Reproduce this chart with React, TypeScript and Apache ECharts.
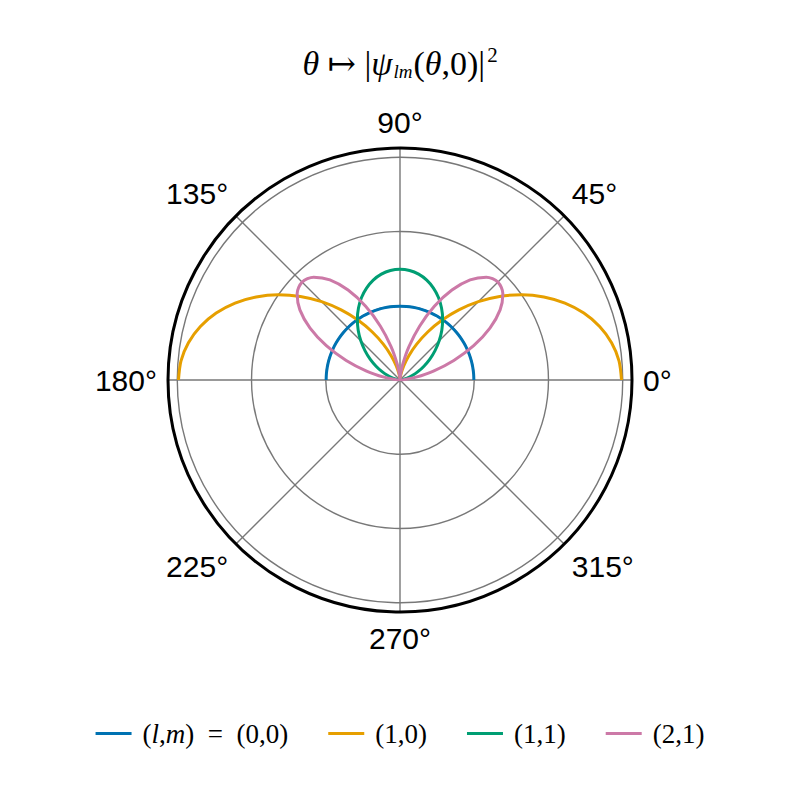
import React, { useEffect, useRef } from "react";
import * as echarts from "echarts";

// angles (degrees) sampled from 0 to 180
const angles = [0,5,10,15,20,25,30,35,40,45,50,55,60,65,70,75,80,85,90,95,100,105,110,115,120,125,130,135,140,145,150,155,160,165,170,175,180];

const seriesNames = ["(l,m) = (0,0)", "(1,0)", "(1,1)", "(2,1)"];

const psi00 = [0.0796,0.0796,0.0796,0.0796,0.0796,0.0796,0.0796,0.0796,0.0796,0.0796,0.0796,0.0796,0.0796,0.0796,0.0796,0.0796,0.0796,0.0796,0.0796,0.0796,0.0796,0.0796,0.0796,0.0796,0.0796,0.0796,0.0796,0.0796,0.0796,0.0796,0.0796,0.0796,0.0796,0.0796,0.0796,0.0796,0.0796];
const psi10 = [0.2387,0.2369,0.2315,0.2227,0.2108,0.1961,0.1790,0.1602,0.1401,0.1194,0.0986,0.0785,0.0597,0.0426,0.0279,0.0160,0.0072,0.0018,0,0.0018,0.0072,0.0160,0.0279,0.0426,0.0597,0.0785,0.0986,0.1194,0.1401,0.1602,0.1790,0.1961,0.2108,0.2227,0.2315,0.2369,0.2387];
const psi11 = [0,0.0009,0.0036,0.0080,0.0140,0.0213,0.0298,0.0393,0.0493,0.0597,0.0701,0.0801,0.0895,0.0981,0.1054,0.1114,0.1158,0.1185,0.1194,0.1185,0.1158,0.1114,0.1054,0.0981,0.0895,0.0801,0.0701,0.0597,0.0493,0.0393,0.0298,0.0213,0.0140,0.0080,0.0036,0.0009,0];
const psi21 = [0,0.0045,0.0175,0.0373,0.0617,0.0876,0.1119,0.1317,0.1447,0.1492,0.1447,0.1317,0.1119,0.0876,0.0617,0.0373,0.0175,0.0045,0,0.0045,0.0175,0.0373,0.0617,0.0876,0.1119,0.1317,0.1447,0.1492,0.1447,0.1317,0.1119,0.0876,0.0617,0.0373,0.0175,0.0045,0];

const seriesValues = [psi00, psi10, psi11, psi21];
const colors = ["#0072B2", "#E69F00", "#009E73", "#CC79A7"];

const radiusMax = 0.25;
const radiusInterval = 0.08;
const angleInterval = 45;

const serif = "'Liberation Serif', 'DejaVu Serif', serif";
const sans = "'Liberation Sans', Arial, sans-serif";

export default function App() {
  const ref = useRef<HTMLDivElement>(null);
  useEffect(() => {
    document.body.style.margin = "0";
    const chart = echarts.init(ref.current!, null, { renderer: "svg" });
    const legendLabel = (name: string) =>
      name === seriesNames[0] ? "({it|l},{it|m})  =  (0,0)" : name;
    chart.setOption({
      animation: false,
      backgroundColor: "#ffffff",
      title: {
        text: "{it|θ} ↦ |{it|ψ}{sub|lm}({it|θ},0)|{sup|2}",
        left: "center",
        top: 39,
        textStyle: {
          fontFamily: serif,
          fontSize: 34,
          fontWeight: "normal",
          color: "#000",
          rich: {
            it: { fontFamily: serif, fontSize: 34, fontStyle: "italic", color: "#000" },
            sub: { fontFamily: serif, fontSize: 19, fontStyle: "italic", color: "#000", padding: [16, 1, 0, 1] },
            sup: { fontFamily: serif, fontSize: 21, color: "#000", padding: [0, 0, 18, 2] },
          },
        },
      },
      legend: {
        bottom: 48,
        left: "center",
        icon: "rect",
        itemWidth: 36,
        itemHeight: 3,
        itemGap: 40,
        data: seriesNames,
        formatter: legendLabel,
        textStyle: {
          fontFamily: serif,
          fontSize: 27,
          color: "#000",
          padding: [0, 0, 0, 6],
          rich: {
            it: { fontFamily: serif, fontSize: 27, fontStyle: "italic", color: "#000" },
          },
        },
      },
      polar: { center: [400, 380], radius: 232 },
      angleAxis: {
        type: "value",
        min: 0,
        max: 360,
        interval: angleInterval,
        startAngle: 0,
        clockwise: false,
        axisLine: { show: true, lineStyle: { color: "#000", width: 3 } },
        axisTick: { show: false },
        axisLabel: {
          margin: 11,
          fontFamily: sans,
          fontSize: 30,
          color: "#000",
          formatter: (v: number) => `${v}°`,
        },
        splitLine: { show: true, lineStyle: { color: "#787878", width: 1.4 } },
      },
      radiusAxis: {
        type: "value",
        min: 0,
        max: radiusMax,
        interval: radiusInterval,
        axisLine: { show: false },
        axisTick: { show: false },
        axisLabel: { show: false },
        splitLine: { show: true, lineStyle: { color: "#787878", width: 1.4 } },
      },
      series: seriesNames.map((name, i) => ({
        name,
        type: "line",
        coordinateSystem: "polar",
        showSymbol: false,
        symbol: "none",
        smooth: 0.3,
        color: colors[i],
        lineStyle: { color: colors[i], width: 3 },
        data: angles.map((a, j) => [seriesValues[i][j], a]),
      })),
    });
    return () => chart.dispose();
  }, []);
  return <div ref={ref} style={{ width: 800, height: 800 }} />;
}
